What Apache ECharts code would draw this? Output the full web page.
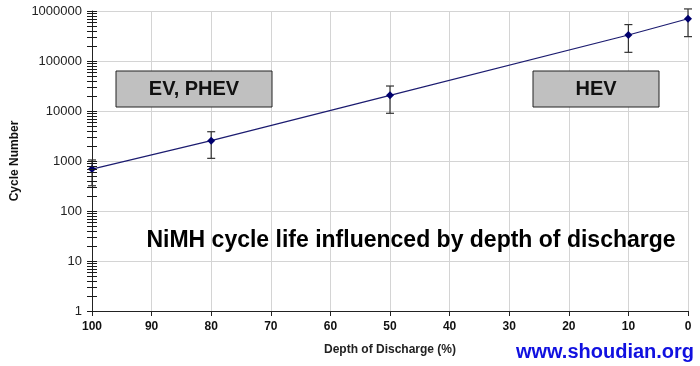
<!DOCTYPE html>
<html><head><meta charset="utf-8">
<script src="https://cdn.jsdelivr.net/npm/echarts@6/dist/echarts.min.js"></script>
<style>html,body{margin:0;padding:0;background:#fff}#c{width:700px;height:366px}</style>
</head><body><div id="c"></div>
<script>
// Data
const depth = [100, 80, 50, 10, 0];
const cycles = [690, 2550, 20600, 331000, 700000];
const errLow = [320, 1130, 9000, 149000, 307000];
const errHigh = [1050, 3850, 31600, 535000, 1100000];
const xTicks = [100, 90, 80, 70, 60, 50, 40, 30, 20, 10, 0];
const yTicks = [1, 10, 100, 1000, 10000, 100000, 1000000];
const boxLabels = ['EV, PHEV', 'HEV'];
const titleText = 'NiMH cycle life influenced by depth of discharge';
const xName = 'Depth of Discharge (%)';
const yName = 'Cycle Number';
const watermark = 'www.shoudian.org';

// y-axis tick values (major + log minor)
const tickVals = [];
for (let d = 0; d < 6; d++) {
  for (let m = 1; m <= 9; m++) tickVals.push(m * Math.pow(10, d));
}
tickVals.push(1000000);

const F = 'Arial, "Liberation Sans", sans-serif';
const chart = echarts.init(document.getElementById('c'), null, {renderer: 'canvas'});
chart.setOption({
  animation: false,
  backgroundColor: '#fff',
  grid: {left: 92, right: 12, top: 11, bottom: 55},
  xAxis: {
    type: 'value', inverse: true, min: 0, max: 100, interval: 10,
    name: xName, nameLocation: 'middle', nameGap: 33,
    nameTextStyle: {fontFamily: F, fontSize: 12, fontWeight: 'bold', color: '#222'},
    axisLine: {show: true, onZero: false, lineStyle: {color: '#222', width: 1}},
    axisTick: {show: true, length: 5, lineStyle: {color: '#222'}},
    axisLabel: {fontFamily: F, fontSize: 12, fontWeight: 'bold', color: '#111', margin: 10},
    splitLine: {show: true, lineStyle: {color: '#d4d4d4', width: 1}}
  },
  yAxis: {
    type: 'log', logBase: 10, min: 1, max: 1000000, splitNumber: 6,
    name: yName, nameLocation: 'middle', nameGap: 64,
    nameTextStyle: {fontFamily: F, fontSize: 12, fontWeight: 'bold', color: '#111'},
    axisLine: {show: true, onZero: false, lineStyle: {color: '#222', width: 1}},
    axisTick: {show: false},
    axisLabel: {fontFamily: F, fontSize: 13, color: '#222', margin: 10,
      formatter: v => String(Math.round(v))},
    splitLine: {show: true, lineStyle: {color: '#d4d4d4', width: 1}}
  },
  series: [
    {
      type: 'custom', silent: true, clip: false, z: 5,
      data: tickVals.map(v => [v]),
      renderItem: (params, api) => {
        const p = api.coord([100, api.value(0)]);
        const y = Math.round(p[1]) + 0.5;
        return {type: 'line', shape: {x1: p[0] - 5, y1: y, x2: p[0] + 5, y2: y},
          style: {stroke: '#1a1a1a', lineWidth: 1}};
      }
    },
    {
      type: 'custom', silent: true, clip: false, z: 3,
      data: depth.map((d, i) => [d, errLow[i], errHigh[i]]),
      renderItem: (params, api) => {
        const lo = api.coord([api.value(0), api.value(1)]);
        const hi = api.coord([api.value(0), api.value(2)]);
        const st = {stroke: '#333', lineWidth: 1.2};
        return {type: 'group', children: [
          {type: 'line', shape: {x1: lo[0], y1: lo[1], x2: hi[0], y2: hi[1]}, style: st},
          {type: 'line', shape: {x1: lo[0] - 4, y1: lo[1], x2: lo[0] + 4, y2: lo[1]}, style: st},
          {type: 'line', shape: {x1: hi[0] - 4, y1: hi[1], x2: hi[0] + 4, y2: hi[1]}, style: st}
        ]};
      }
    },
    {
      type: 'line', z: 4,
      data: depth.map((d, i) => [d, cycles[i]]),
      symbol: 'diamond', symbolSize: 8,
      lineStyle: {color: '#1c1c70', width: 1.2},
      itemStyle: {color: '#00006e'}
    }
  ],
  graphic: [
    {type: 'rect', shape: {x: 116, y: 71, width: 156, height: 36},
      style: {fill: '#c0c0c0', stroke: '#222', lineWidth: 1}, z: 10},
    {type: 'text', x: 194, y: 89, z: 11,
      style: {text: boxLabels[0], font: 'bold 20px ' + F, fill: '#111', align: 'center', verticalAlign: 'middle'}},
    {type: 'rect', shape: {x: 533, y: 71, width: 126, height: 36},
      style: {fill: '#c0c0c0', stroke: '#222', lineWidth: 1}, z: 10},
    {type: 'text', x: 596, y: 89, z: 11,
      style: {text: boxLabels[1], font: 'bold 20px ' + F, fill: '#111', align: 'center', verticalAlign: 'middle'}},
    {type: 'text', x: 411, y: 241, z: 11,
      style: {text: titleText, font: 'bold 23px ' + F, fill: '#000', align: 'center', verticalAlign: 'middle'}},
    {type: 'text', x: 605, y: 352, z: 11,
      style: {text: watermark, font: 'bold 20px ' + F, fill: '#1010e0', align: 'center', verticalAlign: 'middle'}}
  ]
});
</script></body></html>
